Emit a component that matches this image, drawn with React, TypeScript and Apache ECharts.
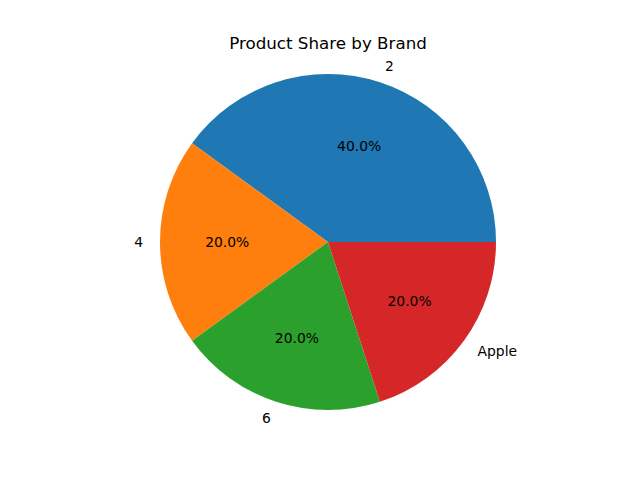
import React, { useEffect, useRef } from "react";
import * as echarts from "echarts";

const categories = ["2", "4", "6", "Apple"];
const values = [40, 20, 20, 20];
const colors = ["#1f77b4", "#ff7f0e", "#2ca02c", "#d62728"];
const titleText = "Product Share by Brand";

export default function App() {
  const ref = useRef<HTMLDivElement>(null);
  useEffect(() => {
    document.body.style.margin = "0";
    const chart = echarts.init(ref.current!, null, { renderer: "svg" });
    const R = 168;
    const data = categories.map((c, i) => ({ name: c, value: values[i] }));
    chart.setOption({
      animation: false,
      backgroundColor: "#ffffff",
      color: colors,
      title: {
        text: titleText,
        left: 328,
        textAlign: "center",
        top: 34,
        padding: 0,
        itemGap: 0,
        textStyle: {
          fontFamily: "DejaVu Sans",
          fontSize: 16.7,
          fontWeight: "normal",
          color: "#000000",
        },
      },
      series: [
        {
          type: "pie",
          center: [328, 242],
          radius: [0, R],
          startAngle: 0,
          clockwise: false,
          avoidLabelOverlap: false,
          silent: true,
          data,
          itemStyle: { borderWidth: 0 },
          label: {
            show: true,
            position: "outside",
            formatter: "{b}",
            fontFamily: "DejaVu Sans",
            fontSize: 13.9,
            color: "#000000",
            distanceToLabelLine: 0,
          },
          labelLine: { show: false, length: R * 0.1, length2: 0 },
          emphasis: { disabled: true },
        },
        {
          type: "pie",
          center: [328, 242],
          radius: [R * 0.6 - 3 - 2, R * 0.6 - 3 + 2],
          startAngle: 0,
          clockwise: false,
          avoidLabelOverlap: false,
          silent: true,
          data,
          itemStyle: { color: "rgba(0,0,0,0)", borderWidth: 0 },
          label: {
            show: true,
            position: "inside",
            formatter: (p: any) => `${p.percent.toFixed(1)}%`,
            fontFamily: "DejaVu Sans",
            fontSize: 13.9,
            color: "#000000",
          },
          labelLine: { show: false },
          emphasis: { disabled: true },
        },
      ],
    });
    return () => chart.dispose();
  }, []);
  return <div ref={ref} style={{ width: 640, height: 480 }} />;
}
